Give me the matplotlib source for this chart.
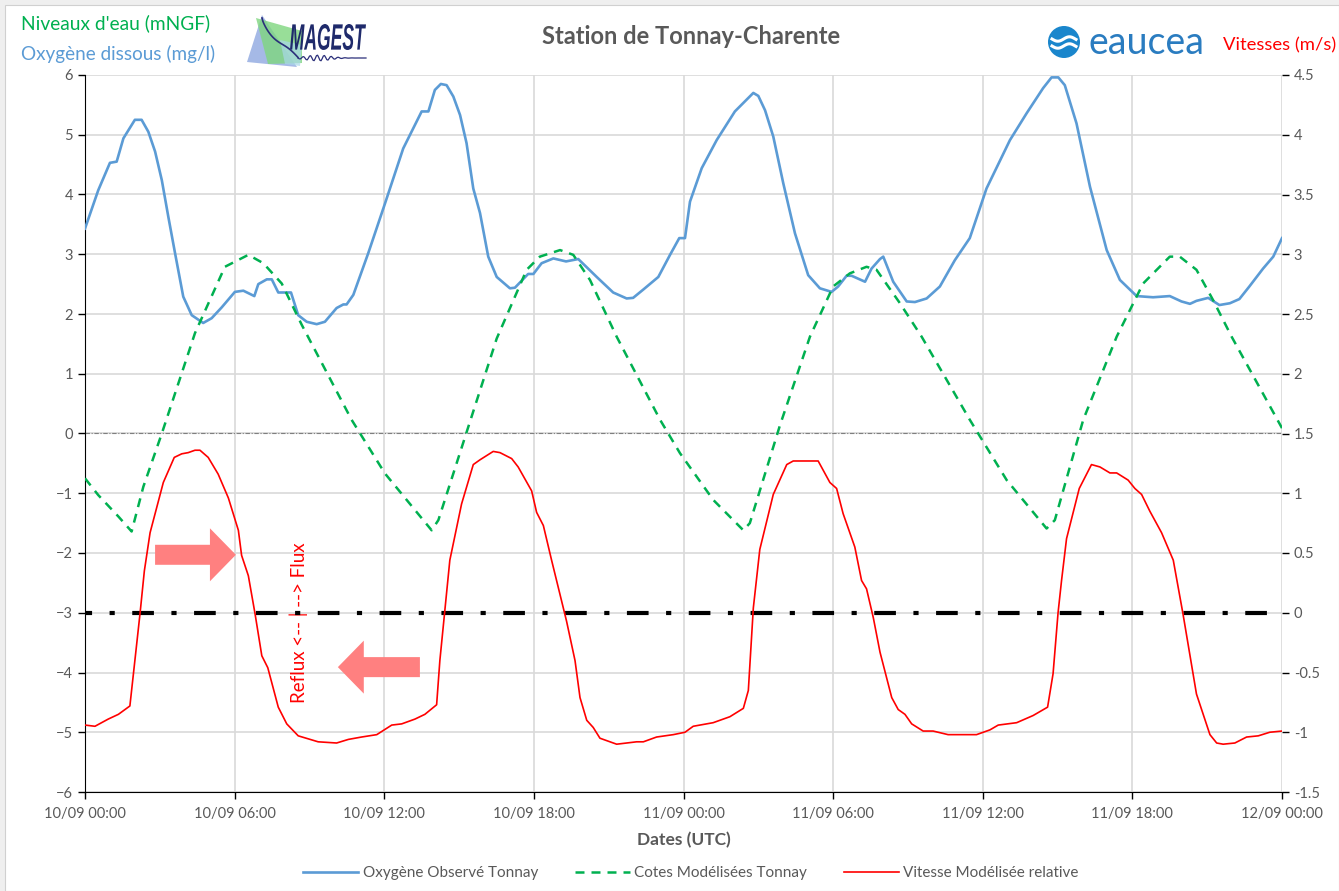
import matplotlib
matplotlib.use("Agg")
import matplotlib.pyplot as plt
import numpy as np
from matplotlib.patches import Rectangle, Polygon, Circle, FancyArrow, PathPatch
from matplotlib.textpath import TextPath
from matplotlib.font_manager import FontProperties
from matplotlib.transforms import Affine2D
from matplotlib.ticker import FuncFormatter, MultipleLocator

plt.rcParams['font.family'] = ['Lato', 'DejaVu Sans']

# time axis: hours since 10/09 00:00
oxy_h = [0, 0.53, 1.00, 1.27, 1.54, 2.00, 2.27, 2.54, 2.81, 3.08, 3.34, 3.61, 3.94, 4.28,
         4.74, 5.08, 5.48, 6.01, 6.35, 6.79, 6.95, 7.29, 7.49, 7.75, 8.26, 8.55, 8.89,
         9.29, 9.62, 10.09, 10.36, 10.49, 10.76, 11.36, 12.03, 12.76, 13.50, 13.77, 14.03,
         14.27, 14.50, 14.77, 15.04, 15.30, 15.57, 15.84, 16.17, 16.51, 17.04, 17.24,
         17.77, 17.98, 18.31, 18.78, 19.29, 19.78, 20.52, 21.18, 21.72, 21.98, 22.39,
         22.99, 23.46, 23.83, 24.06, 24.26, 24.73, 25.33, 26.06, 26.80, 27.00, 27.27,
         27.60, 28.00, 28.47, 29.00, 29.47, 29.94, 30.20, 30.54, 30.74, 31.28, 31.54,
         31.88, 32.01, 32.41, 32.95, 33.28, 33.75, 34.28, 34.88, 35.48, 36.15, 37.09,
         37.76, 38.42, 38.76, 39.03, 39.29, 39.76, 40.30, 40.97, 41.50, 42.17, 42.83,
         43.50, 43.97, 44.31, 44.57, 45.04, 45.49, 45.91, 46.29, 46.69, 47.24, 47.65, 48.00]
oxy_v = [3.43, 4.07, 4.53, 4.55, 4.94, 5.25, 5.25, 5.05, 4.72, 4.24, 3.63, 3.02, 2.29, 1.98,
         1.85, 1.93, 2.11, 2.37, 2.39, 2.30, 2.50, 2.58, 2.58, 2.36, 2.36, 1.98, 1.87,
         1.83, 1.87, 2.10, 2.16, 2.16, 2.32, 3.02, 3.85, 4.77, 5.39, 5.39, 5.75,
         5.85, 5.83, 5.64, 5.33, 4.86, 4.10, 3.69, 2.96, 2.62, 2.43, 2.44,
         2.67, 2.67, 2.85, 2.93, 2.88, 2.92, 2.62, 2.36, 2.26, 2.27, 2.41,
         2.62, 2.99, 3.27, 3.27, 3.88, 4.44, 4.91, 5.39, 5.70, 5.65, 5.41,
         4.97, 4.19, 3.35, 2.65, 2.43, 2.37, 2.46, 2.64, 2.64, 2.54, 2.76,
         2.92, 2.96, 2.54, 2.21, 2.20, 2.26, 2.46, 2.90, 3.27, 4.10, 4.91,
         5.36, 5.78, 5.96, 5.96, 5.83, 5.19, 4.13, 3.07, 2.57, 2.30, 2.28,
         2.30, 2.21, 2.17, 2.22, 2.27, 2.15, 2.18, 2.25, 2.46, 2.76, 2.96, 3.27]

cote_h = [0, 0.53, 1.34, 1.87, 2.34, 3.08, 4.41, 5.61, 6.55, 7.15, 7.89, 8.69, 10.69, 12.03,
          13.90, 14.17, 15.37, 16.51, 17.71, 18.24, 19.05, 19.58, 20.25, 21.32, 23.06,
          23.86, 25.19, 26.40, 26.66, 27.87, 29.07, 30.00, 30.67, 31.34, 31.74, 32.68,
          33.55, 35.48, 36.96, 38.56, 38.89, 40.03, 41.37, 42.43, 43.50, 43.90, 44.57,
          45.24, 45.98, 48.00]
cote_v = [-0.75, -1.03, -1.39, -1.64, -0.89, 0.0, 1.68, 2.79, 2.99, 2.85, 2.51, 1.82, 0.23, -0.67,
          -1.62, -1.45, 0.11, 1.59, 2.74, 2.96, 3.07, 2.99, 2.57, 1.62, 0.23,
          -0.33, -1.11, -1.62, -1.50, 0.14, 1.62, 2.46, 2.68, 2.79, 2.74, 2.18,
          1.62, 0.23, -0.78, -1.59, -1.45, 0.23, 1.62, 2.51, 2.96, 2.96, 2.74,
          2.23, 1.62, 0.09]

vit_h = [0, 0.40, 0.93, 1.34, 1.80, 2.00, 2.21, 2.38, 2.61, 3.14, 3.58, 3.88, 4.14, 4.41, 4.61,
         4.94, 5.34, 5.75, 6.15, 6.28, 6.55, 6.82, 7.09, 7.33, 7.75, 8.09, 8.55, 9.35, 10.09,
         10.56, 11.09, 11.70, 12.30, 12.70, 13.23, 13.63, 14.10, 14.23, 14.43, 14.63, 15.10,
         15.57, 15.84, 16.37, 16.64, 17.11, 17.37, 17.64, 17.91, 18.11, 18.38, 18.71, 19.11,
         19.31, 19.65, 19.85, 20.12, 20.38, 20.65, 21.32, 22.12, 22.39, 22.92, 23.59, 24.06,
         24.39, 25.19, 25.86, 26.40, 26.60, 26.80, 27.06, 27.60, 28.14, 28.40, 28.94, 29.40,
         29.87, 30.14, 30.40, 30.87, 31.14, 31.34, 31.61, 31.88, 32.35, 32.61, 32.88, 33.15,
         33.61, 34.01, 34.61, 35.75, 36.29, 36.62, 37.36, 38.02, 38.60, 38.82, 39.02, 39.16,
         39.36, 39.87, 40.36, 40.70, 41.10, 41.37, 41.83, 42.10, 42.37, 42.70, 43.17, 43.64,
         44.03, 44.57, 45.11, 45.38, 45.64, 46.11, 46.58, 47.05, 47.51, 48.00]
vit_v = [-0.94, -0.95, -0.89, -0.85, -0.78, -0.40, 0.0, 0.35, 0.67, 1.09, 1.30, 1.33, 1.34, 1.36, 1.36,
         1.30, 1.16, 0.96, 0.69, 0.48, 0.31, -0.01, -0.36, -0.46, -0.79, -0.93, -1.03, -1.08, -1.09,
         -1.06, -1.04, -1.02, -0.94, -0.93, -0.89, -0.85, -0.77, -0.40, 0.02, 0.44, 0.91,
         1.24, 1.28, 1.35, 1.34, 1.29, 1.22, 1.12, 1.02, 0.84, 0.73, 0.44, 0.10,
         -0.07, -0.40, -0.71, -0.90, -0.96, -1.05, -1.10, -1.08, -1.08, -1.04, -1.02, -1.00,
         -0.95, -0.92, -0.87, -0.80, -0.65, 0.04, 0.53, 0.99, 1.24, 1.27, 1.27, 1.27,
         1.09, 1.04, 0.83, 0.55, 0.27, 0.20, -0.04, -0.33, -0.71, -0.81, -0.85, -0.93,
         -0.99, -0.99, -1.02, -1.02, -0.98, -0.94, -0.92, -0.86, -0.79, -0.51, 0.0, 0.27,
         0.62, 1.04, 1.24, 1.22, 1.17, 1.17, 1.11, 1.04, 0.99, 0.85, 0.67, 0.44,
         -0.01, -0.68, -1.02, -1.09, -1.10, -1.09, -1.04, -1.03, -1.00, -0.99]

xtick_pos = [0, 6, 12, 18, 24, 30, 36, 42, 48]
xtick_labels = ['10/09 00:00', '10/09 06:00', '10/09 12:00', '10/09 18:00', '11/09 00:00',
                '11/09 06:00', '11/09 12:00', '11/09 18:00', '12/09 00:00']
series_names = ['Oxygène Observé Tonnay', 'Cotes Modélisées Tonnay', 'Vitesse Modélisée relative']

W, H = 1339, 891
GRAY = '#595959'
BLUE = '#5b9bd5'
GREEN = '#00b050'
RED = '#ff0000'

fig = plt.figure(figsize=(W / 100, H / 100), dpi=100)
fig.patch.set_facecolor('#efefef')

# white sheet behind the chart
bg = fig.add_axes([0, 0, 1, 1], zorder=-10)
bg.set_xlim(0, W)
bg.set_ylim(H, 0)
bg.axis('off')
bg.add_patch(Rectangle((5, 5), W - 5, H - 5, facecolor='white', edgecolor='#d0d0d0', lw=0.8))

ax = fig.add_axes([85 / W, 1 - 792 / H, (1282 - 85) / W, (792 - 75) / H])
ax.set_facecolor('none')
ax2 = ax.twinx()

ax.set_xlim(0, 48)
ax.set_ylim(-6, 6)
ax2.set_ylim(-1.5, 4.5)

ax.set_xticks(xtick_pos)
ax.set_xticklabels(xtick_labels)
ax.yaxis.set_major_locator(MultipleLocator(1))
ax2.yaxis.set_major_locator(MultipleLocator(0.5))
ax2.yaxis.set_major_formatter(FuncFormatter(lambda v, p: '%g' % v))

ax.grid(True, color='#d9d9d9', lw=1.2)
ax.set_axisbelow(True)

for a in (ax, ax2):
    a.tick_params(colors='black', labelcolor=GRAY, labelsize=10.5, length=5, width=1)
    a.spines['top'].set_visible(False)
    a.spines['right'].set_visible(False)
ax2.spines['left'].set_visible(False)
ax2.spines['bottom'].set_visible(False)
ax.tick_params(axis='x', pad=6)

ax.axhline(0, color='#7f7f7f', lw=0.8, linestyle=(0, (4, 1.5, 1, 1.5)), zorder=1)

l1, = ax.plot(oxy_h, oxy_v, color=BLUE, lw=1.9, zorder=3)
l2, = ax.plot(cote_h, cote_v, color=GREEN, lw=1.8, linestyle=(0, (3.6, 2.8)), zorder=3)
ax2.axhline(0, color='black', lw=3, linestyle=(3.5, (5.2, 4.2, 1.24, 4.2)),
            dash_capstyle='butt', zorder=2)
l3, = ax2.plot(vit_h, vit_v, color=RED, lw=1.2, zorder=3)

# flow direction arrows
ax.add_patch(FancyArrow(2.81, -2.03, 3.24, 0, width=0.335, head_width=0.887, head_length=1.04,
                        length_includes_head=True, color='#ff8080', lw=0, zorder=4))
ax.add_patch(FancyArrow(13.43, -3.91, -3.29, 0, width=0.335, head_width=0.887, head_length=1.04,
                        length_includes_head=True, color='#ff8080', lw=0, zorder=4))
ax.text(8.58, -3.17, 'Reflux <-- | --> Flux', rotation=90, color=RED, fontsize=13.5,
        ha='center', va='center', zorder=5)

fig.text(691 / W, 1 - 37 / H, 'Station de Tonnay-Charente', ha='center', va='center',
         fontsize=17, fontweight='bold', color=GRAY)
fig.text(684 / W, 1 - 840 / H, 'Dates (UTC)', ha='center', va='center',
         fontsize=12.5, fontweight='bold', color=GRAY)

fig.text(21 / W, 1 - 23 / H, "Niveaux d'eau (mNGF)", ha='left', va='center', fontsize=13.8, color=GREEN)
fig.text(21 / W, 1 - 54 / H, 'Oxygène dissous (mg/l)', ha='left', va='center', fontsize=13.6, color=BLUE)
fig.text(1336 / W, 1 - 45 / H, 'Vitesses (m/s)', ha='right', va='center', fontsize=13.3, color=RED)

# logos drawn in pixel space on a top overlay
top = fig.add_axes([0, 0, 1, 1], zorder=10)
top.set_xlim(0, W)
top.set_ylim(H, 0)
top.axis('off')
top.patch.set_alpha(0)

top.add_patch(Polygon([(247, 62), (262, 15), (297, 67)], closed=True,
                      facecolor='#8fa8e0', edgecolor='none', alpha=0.8))
top.add_patch(Polygon([(256, 18), (302, 31), (302, 63), (268, 64)], closed=True,
                      facecolor='#7fd67f', edgecolor='none', alpha=0.8))
top.add_patch(Polygon([(280, 40), (302, 45), (300, 66), (285, 64)], closed=True,
                      facecolor='#a9d8e8', edgecolor='none', alpha=0.7))
ct = np.linspace(0, 1, 40)
top.plot(262 + 36 * ct, 18 + 40 * ct ** 0.7 + 2 * np.sin(ct * 6), color='#2b2f7a', lw=1.2)
wx = np.linspace(298, 366, 60)
top.plot(wx, 58 + 3 * np.sin((wx - 298) * 0.9) * np.exp(-(wx - 318) ** 2 / 300), color='#2b2f7a', lw=0.9)
tp = TextPath((0, 0), 'MAGEST', size=1,
              prop=FontProperties(family='Liberation Sans', weight='bold', style='italic'))
ext = tp.get_extents()
sx = (366 - 290) / ext.width
sy = (50 - 24) / ext.height
tr = Affine2D().translate(-ext.x0, -ext.y0).scale(sx, -sy).translate(290, 50)
top.add_patch(PathPatch(tr.transform_path(tp), facecolor='#1f2a6b', edgecolor='none'))

top.add_patch(Circle((1064, 42), 16, facecolor='#1a86cc', edgecolor='none'))
wv = np.linspace(1052, 1076, 30)
top.plot(wv, 39 + 2.2 * np.sin((wv - 1052) * 0.27), color='white', lw=2.2)
top.plot(wv, 46 + 2.2 * np.sin((wv - 1052) * 0.27), color='white', lw=2.2)
top.text(1088, 43, 'eaucea', ha='left', va='center', fontsize=27, color='#2a7cc0')

fig.legend([l1, l2, l3], series_names,
           loc='center', bbox_to_anchor=(691 / W, 1 - 873 / H), ncol=3, frameon=False,
           fontsize=11, labelcolor=GRAY, handlelength=3.6, handletextpad=0.3, columnspacing=2.4)

fig.savefig('out.png', dpi=100)
